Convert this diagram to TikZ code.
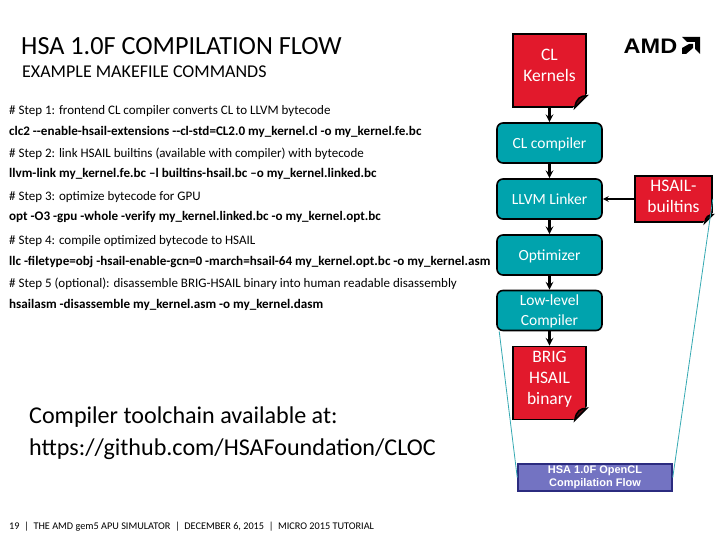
\documentclass[tikz,border=0pt]{standalone}
\usepackage{fontspec}
\setmainfont{Carlito}
\setsansfont{Liberation Sans}
\usepackage{xcolor}
\usetikzlibrary{arrows.meta,calc}
\definecolor{tealfill}{HTML}{00A3AD}
\definecolor{notered}{HTML}{E2192C}
\definecolor{flowblue}{HTML}{7373C2}
\definecolor{flowedge}{HTML}{2B2B7F}
\definecolor{guideline}{HTML}{35A9B2}

\begin{document}
\begin{tikzpicture}[
        x=1pt, y=-1pt,
        >=stealth,
        title/.style={anchor=base west, inner sep=0pt, font=\fontsize{26.2}{26}\selectfont},
        subtitle/.style={anchor=base west, inner sep=0pt, font=\fontsize{18}{18}\selectfont},
        comment/.style={anchor=base west, inner sep=0pt, font=\fontsize{13}{13}\selectfont},
        command/.style={anchor=base west, inner sep=0pt, font=\fontsize{13.1}{13}\selectfont\bfseries},
        bigtext/.style={anchor=base west, inner sep=0pt, font=\fontsize{24.1}{24}\selectfont},
        footer/.style={anchor=base west, inner sep=0pt, font=\fontsize{10.25}{10}\selectfont},
        tool/.style={draw=black, line width=1.6pt, fill=tealfill, text=white, rounded corners=6pt, minimum height=40pt, minimum width=105pt, align=center, inner sep=0pt, text depth=0pt, font=\fontsize{15.5}{20}\selectfont},
        note/.style={draw=black, line width=1.6pt, fill=notered, text=white, align=center, inner sep=0pt, font=\fontsize{17.5}{21}\selectfont},
        fold/.style={draw=black, line width=1.6pt, fill=notered!35!black},
        pathline/.style={->, line width=2.4pt, draw=black},
        guide/.style={draw=guideline, line width=0.8pt}
    ]

    \useasboundingbox (0,0) rectangle (720,540);

    % ==========================================
    % Heading
    % ==========================================
    \node[title] (heading) at (21, 55) {HSA 1.0F COMPILATION FLOW};
    \node[subtitle] (subheading) at (22, 77.5) {EXAMPLE MAKEFILE COMMANDS};

    % ==========================================
    % Makefile commands
    % ==========================================
    \node[comment] (step_a) at (9, 115) {\# Step 1: frontend CL compiler converts CL to LLVM bytecode};
    \node[command] (cmd_a) at (9, 135.5) {clc2 {-}{-}enable-hsail-extensions {-}{-}cl-std=CL2.0 my\_kernel.cl -o my\_kernel.fe.bc};
    \node[comment] (step_b) at (9, 158) {\# Step 2: link HSAIL builtins (available with compiler) with bytecode};
    \node[command] (cmd_b) at (9, 178) {llvm-link my\_kernel.fe.bc –l builtins-hsail.bc –o my\_kernel.linked.bc};
    \node[comment] (step_c) at (9, 201) {\# Step 3: optimize bytecode for GPU};
    \node[command] (cmd_c) at (9, 221) {opt -O3 -gpu -whole -verify my\_kernel.linked.bc -o my\_kernel.opt.bc};
    \node[comment] (step_d) at (9, 244) {\# Step 4: compile optimized bytecode to HSAIL};
    \node[command] (cmd_d) at (9, 265) {llc -filetype=obj -hsail-enable-gcn=0 -march=hsail-64 my\_kernel.opt.bc -o my\_kernel.asm};
    \node[comment] (step_e) at (9, 287) {\# Step 5 (optional): disassemble BRIG-HSAIL binary into human readable disassembly};
    \node[command] (cmd_e) at (9, 308) {hsailasm -disassemble my\_kernel.asm -o my\_kernel.dasm};

    \node[bigtext] (avail_a) at (29, 423) {Compiler toolchain available at:};
    \node[bigtext] (avail_b) at (29, 455) {https://github.com/HSAFoundation/CLOC};

    \node[footer] (foot) at (9, 529) {19\ \ |\ \ THE AMD gem5 APU SIMULATOR\ \ |\ \ DECEMBER 6, 2015\ \ |\ \ MICRO 2015 TUTORIAL};

    % ==========================================
    % Compilation flow
    % ==========================================
    \node[note, minimum width=73pt, minimum height=73pt] (kernels) at (549.5, 70.5) {CL\\Kernels\\[-11pt]\mbox{}};
    \node[tool] (compiler) at (549.5, 143) {CL compiler};
    \node[tool] (linker) at (549.5, 199) {LLVM Linker};
    \node[tool] (optimizer) at (549.5, 255) {Optimizer};
    \node[tool] (lowlevel) at (549.5, 310.5) {Low-level\\Compiler};
    \node[note, minimum width=73pt, minimum height=73pt] (binary) at (549.5, 383) {BRIG\\HSAIL\\binary\\[-11pt]\mbox{}};
    \node[note, minimum width=77pt, minimum height=46pt] (builtins) at (673.5, 199) {HSAIL-\\builtins\\[-16pt]\mbox{}};

    \draw[pathline] (kernels) -- (compiler);
    \draw[pathline] (compiler) -- (linker);
    \draw[pathline] (linker) -- (optimizer);
    \draw[pathline] (optimizer) -- (lowlevel);
    \draw[pathline] (lowlevel) -- (binary);
    \draw[->, line width=1.6pt] (builtins) -- (linker);

    % folded corners of the notes
    \foreach \n/\s in {kernels/12, binary/12, builtins/8} {
        \coordinate (corner) at (\n.south east);
        \filldraw[white, line width=2.4pt] ($(corner)+(-\s,0)$) -- (corner) -- ($(corner)+(0,-\s)$) -- cycle;
        \draw[fold] ($(corner)+(-\s,0)$) .. controls +(0.1*\s,-0.8*\s) and +(-0.5*\s,0) .. ($(corner)+(0,-\s)$) -- cycle;
    }

    % ==========================================
    % Callout with its two guide lines
    % ==========================================
    \node[draw=flowedge, line width=1.5pt, fill=flowblue, text=white, minimum width=154pt, minimum height=27pt, align=center, inner sep=0pt, font=\sffamily\bfseries\fontsize{11}{13.5}\selectfont] (flow) at (595, 477.5) {HSA 1.0F OpenCL\\Compilation Flow};
    \draw[guide] ([xshift=3pt]lowlevel.south west) -- (flow.west);
    \draw[guide] (builtins.east) -- (flow.east);

    % ==========================================
    % Logo
    % ==========================================
    \node[anchor=base west, inner sep=0pt, font=\sffamily\bfseries\fontsize{21}{21}\selectfont] (logo) at (623.5, 53.5) {\scalebox{1.12}[1]{AMD}};
    \fill[black] (682, 37) -- (700, 37) -- (700, 54) -- (695, 49) -- (695, 42) -- (687, 42) -- cycle;
    \fill[black] (689, 44) -- (693, 44) -- (693, 48) -- (686, 54) -- (682, 54) -- (682, 48) -- cycle;

\end{tikzpicture}
\end{document}
